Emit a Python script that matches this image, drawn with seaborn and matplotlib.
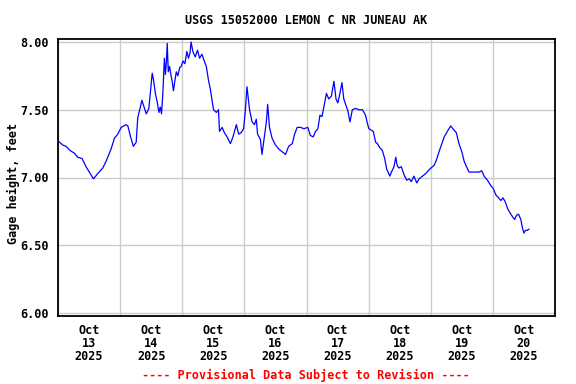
"""USGS gage height plot - Lemon Creek near Juneau"""

import pandas as pd
import matplotlib
matplotlib.use("Agg")
import matplotlib.pyplot as plt
import matplotlib.dates as mdates
import seaborn as sns

# Hours since 2025-10-13 00:00 and gage height (ft)
hours = [
    0.0, 1.8, 3.1, 4.6, 6.3, 7.6, 9.3, 10.8, 12.1, 13.7,
    15.4, 17.3, 18.8, 20.5, 21.8, 23.1, 24.4, 26.3, 27.0, 27.9,
    29.1, 30.2, 30.8, 31.7, 32.4, 33.4, 34.1, 35.1, 35.6, 36.4,
    36.9, 37.7, 38.3, 39.0, 39.5, 40.0, 40.5, 41.1, 41.5, 41.9,
    42.2, 42.6, 43.1, 43.6, 44.1, 44.6, 45.2, 45.7, 46.3, 47.0,
    47.6, 48.3, 49.0, 49.8, 50.4, 51.0, 51.4, 52.1, 53.0, 53.9,
    54.7, 55.6, 56.5, 57.3, 58.2, 58.8, 59.5, 60.1, 61.2, 62.0,
    62.4, 63.4, 64.3, 65.3, 66.6, 67.6, 68.9, 69.8, 70.7, 71.7,
    72.4, 73.0, 73.4, 74.0, 75.0, 75.9, 76.6, 77.1, 78.2, 78.8,
    79.5, 80.5, 81.0, 81.7, 82.7, 84.0, 85.3, 86.6, 87.9, 89.1,
    90.5, 91.4, 92.4, 93.7, 95.0, 96.5, 97.5, 98.6, 99.5, 100.4,
    101.2, 102.0, 103.0, 103.7, 104.6, 105.6, 106.6, 107.4, 108.1, 108.9,
    109.7, 110.4, 111.1, 112.0, 112.8, 113.7, 115.0, 116.2, 117.6, 118.8,
    119.5, 120.1, 121.0, 121.8, 122.7, 123.4, 124.3, 125.3, 126.2, 127.0,
    127.5, 128.2, 128.8, 129.8, 130.5, 131.0, 131.7, 132.6, 133.7, 134.7,
    135.6, 136.5, 137.5, 138.6, 139.5, 140.8, 142.1, 143.5, 145.3, 146.2,
    147.2, 148.3, 149.2, 150.4, 151.7, 153.0, 153.9, 154.9, 156.0, 156.9,
    157.8, 158.8, 160.1, 161.4, 162.7, 163.7, 164.6, 165.9, 167.2, 168.1,
    169.2, 170.2, 171.1, 171.9, 172.8, 173.7, 174.6, 175.6, 176.4, 177.1,
    177.9, 178.8, 179.4, 180.0, 180.6, 181.3, 182.0,
]
gage = [
    7.27, 7.24, 7.23, 7.20, 7.18, 7.15, 7.14, 7.08, 7.04, 6.99,
    7.03, 7.07, 7.13, 7.21, 7.29, 7.32, 7.37, 7.39, 7.38, 7.31,
    7.23, 7.26, 7.44, 7.51, 7.57, 7.51, 7.47, 7.51, 7.61, 7.77,
    7.72, 7.61, 7.56, 7.48, 7.52, 7.47, 7.62, 7.88, 7.76, 7.86,
    7.99, 7.78, 7.82, 7.76, 7.71, 7.64, 7.72, 7.78, 7.75, 7.81,
    7.82, 7.86, 7.84, 7.93, 7.88, 7.92, 8.00, 7.93, 7.89, 7.94,
    7.88, 7.91, 7.86, 7.82, 7.71, 7.66, 7.57, 7.50, 7.48, 7.50,
    7.34, 7.37, 7.33, 7.30, 7.25, 7.30, 7.39, 7.32, 7.33, 7.36,
    7.50, 7.67, 7.60, 7.50, 7.41, 7.39, 7.43, 7.32, 7.28, 7.17,
    7.27, 7.41, 7.54, 7.37, 7.29, 7.24, 7.21, 7.19, 7.17, 7.23,
    7.25, 7.32, 7.37, 7.37, 7.36, 7.37, 7.31, 7.30, 7.34, 7.36,
    7.46, 7.45, 7.55, 7.62, 7.58, 7.60, 7.71, 7.58, 7.55, 7.62,
    7.70, 7.58, 7.54, 7.49, 7.41, 7.50, 7.51, 7.50, 7.50, 7.46,
    7.40, 7.36, 7.35, 7.34, 7.26, 7.25, 7.22, 7.20, 7.14, 7.06,
    7.04, 7.01, 7.04, 7.08, 7.15, 7.09, 7.07, 7.08, 7.02, 6.98,
    6.99, 6.97, 7.01, 6.96, 6.99, 7.01, 7.03, 7.06, 7.09, 7.13,
    7.19, 7.25, 7.30, 7.34, 7.38, 7.35, 7.33, 7.25, 7.19, 7.12,
    7.08, 7.04, 7.04, 7.04, 7.04, 7.05, 7.01, 6.98, 6.94, 6.92,
    6.87, 6.85, 6.83, 6.85, 6.82, 6.77, 6.74, 6.71, 6.69, 6.72,
    6.73, 6.69, 6.63, 6.59, 6.61, 6.61, 6.62,
]

start = pd.Timestamp("2025-10-13 00:00")
df = pd.DataFrame({
    "time": start + pd.to_timedelta(hours, unit="h"),
    "gage": gage,
})

sns.set_style("white")
plt.rcParams["font.family"] = ["DejaVu Sans Mono"]
plt.rcParams["font.weight"] = "bold"
plt.rcParams["text.color"] = "black"
plt.rcParams["xtick.color"] = "black"
plt.rcParams["ytick.color"] = "black"

fig = plt.figure(figsize=(5.76, 3.84), dpi=100)
ax = fig.add_axes([58 / 576, 1 - 316 / 384, 497 / 576, 277 / 384])

sns.lineplot(data=df, x="time", y="gage", ax=ax, color="#0000ff",
             linewidth=0.9, estimator=None, sort=False)

ax.set_xlim(start, start + pd.Timedelta(days=8))
ax.set_ylim(5.978, 8.022)
ax.set_yticks([6.0, 6.5, 7.0, 7.5, 8.0])
ax.yaxis.set_major_formatter(plt.FormatStrFormatter("%.2f"))

# grid at midnight, labels at noon
ax.xaxis.set_major_locator(mdates.DayLocator())
ax.xaxis.set_major_formatter(plt.NullFormatter())
ax.xaxis.set_minor_locator(mdates.HourLocator(byhour=12))
ax.xaxis.set_minor_formatter(mdates.DateFormatter("%b\n%d\n%Y"))

ax.grid(True, which="major", color="#cccccc", linewidth=1)
ax.set_axisbelow(True)
ax.tick_params(axis="both", which="both", length=0, labelsize=8.5,
               labelcolor="black")
ax.tick_params(axis="x", which="minor", pad=6)
ax.tick_params(axis="y", pad=7)
for lab in ax.xaxis.get_minorticklabels():
    lab.set_linespacing(1.0)
    lab.set_fontweight("bold")
for lab in ax.get_yticklabels():
    lab.set_fontweight("bold")

for sp in ax.spines.values():
    sp.set_color("black")
    sp.set_linewidth(1.3)

ax.set_xlabel("")
ax.set_ylabel("")

fig.text(13 / 576, 1 - 183 / 384, "Gage height, feet", rotation=90,
         ha="center", va="center", fontsize=8.5, fontweight="bold", color="black")
fig.text(306 / 576, 1 - 20 / 384, "USGS 15052000 LEMON C NR JUNEAU AK",
         ha="center", va="center", fontsize=8.5, fontweight="bold", color="black")
fig.text(306 / 576, 1 - 375 / 384, "---- Provisional Data Subject to Revision ----",
         ha="center", va="center", fontsize=8.5, fontweight="bold", color="red")

fig.savefig("out.png", dpi=100)
